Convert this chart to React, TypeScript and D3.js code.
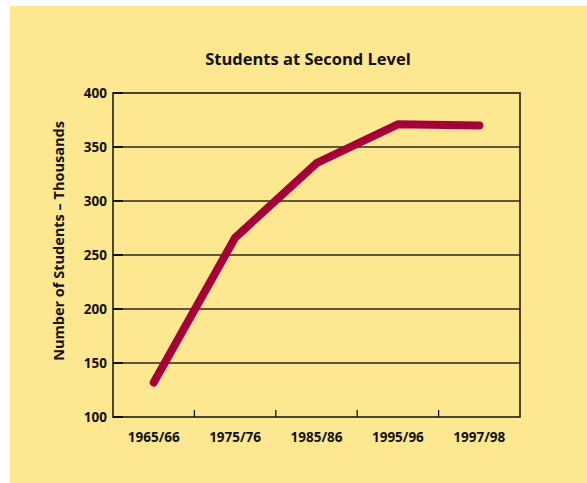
import React from "react";
import * as d3 from "d3";

const categories = ["1965/66", "1975/76", "1985/86", "1995/96", "1997/98"];
const students = [132, 266, 335, 371, 370];
const yTicks = [100, 150, 200, 250, 300, 350, 400];

const W = 587;
const H = 483;
const margin = { left: 113, top: 93, right: 520, bottom: 417 };

export default function App() {
  const x = d3
    .scaleBand<string>()
    .domain(categories)
    .range([margin.left, margin.right]);
  const y = d3.scaleLinear().domain([100, 400]).range([margin.bottom, margin.top]);
  const line = d3
    .line<number>()
    .x((_, i) => (x(categories[i]) as number) + x.bandwidth() / 2)
    .y((d) => y(d));
  const font = "'Open Sans', 'DejaVu Sans', sans-serif";
  return (
    <svg
      width={W}
      height={H}
      style={{ position: "absolute", left: 0, top: 0 }}
      fontFamily={font}
    >
      <rect x={10} y={6} width={W - 10} height={H - 6} fill="#fde891" />
      <text
        x={308}
        y={65}
        textAnchor="middle"
        fontSize={16.5}
        fontWeight={700}
        fill="#111"
      >
        Students at Second Level
      </text>
      {yTicks.map((t) => (
        <g key={t}>
          {t > 100 && t < 400 && (
            <line
              x1={margin.left}
              x2={margin.right}
              y1={y(t)}
              y2={y(t)}
              stroke="#2a2a1a"
              strokeWidth={1.3}
            />
          )}
          <line
            x1={margin.left}
            x2={margin.left + 10}
            y1={y(t)}
            y2={y(t)}
            stroke="#111"
            strokeWidth={2}
          />
          <text
            x={107}
            y={y(t)}
            dy="0.35em"
            textAnchor="end"
            fontSize={13.5}
            fontWeight={700}
            fill="#111"
          >
            {t}
          </text>
        </g>
      ))}
      {categories.slice(1).map((c) => (
        <line
          key={c}
          x1={x(c) as number}
          x2={x(c) as number}
          y1={margin.bottom}
          y2={margin.bottom - 7}
          stroke="#111"
          strokeWidth={1.3}
        />
      ))}
      <rect
        x={margin.left}
        y={margin.top}
        width={margin.right - margin.left}
        height={margin.bottom - margin.top}
        fill="none"
        stroke="#111"
        strokeWidth={1.5}
      />
      {categories.map((c) => (
        <text
          key={c}
          x={(x(c) as number) + x.bandwidth() / 2}
          y={442}
          textAnchor="middle"
          fontSize={13.5}
          fontWeight={700}
          fill="#111"
        >
          {c}
        </text>
      ))}
      <text
        transform="translate(64,241) rotate(-90)"
        textAnchor="middle"
        fontSize={14.5}
        fontWeight={700}
        fill="#111"
      >
        Number of Students – Thousands
      </text>
      <path
        d={line(students) || ""}
        fill="none"
        stroke="#a6003a"
        strokeWidth={8}
        strokeLinecap="round"
        strokeLinejoin="round"
      />
    </svg>
  );
}
